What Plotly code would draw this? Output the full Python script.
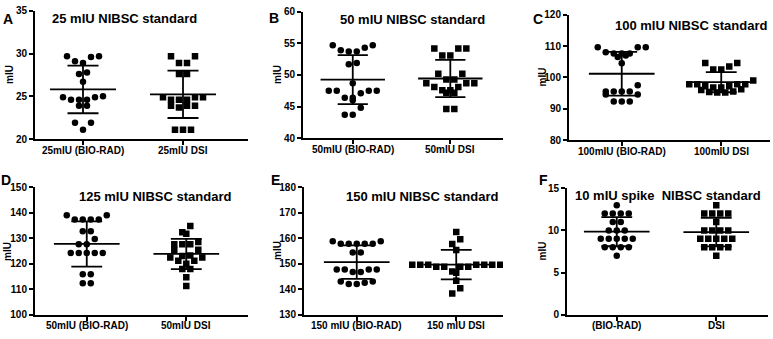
import numpy as np
import plotly.graph_objects as go

# ---------------- data ----------------
panel_letters = ["A", "B", "C", "D", "E", "F"]
titles = ["25 mIU NIBSC standard", "50 mIU NIBSC standard", "100 mIU NIBSC standard",
          "125 mIU NIBSC standard", "150 mIU NIBSC standard", "10 mIU spike\u00a0 NIBSC standard"]
cat_labels = [["25mIU (BIO-RAD)", "25mIU DSI"],
              ["50mIU (BIO-RAD)", "50mIU DSI"],
              ["100mIU (BIO-RAD)", "100mIU DSI"],
              ["50mIU (BIO-RAD)", "50mIU DSI"],
              ["150 mIU (BIO-RAD)", "150 mIU DSI"],
              ["(BIO-RAD)", "DSI"]]
y_ranges = [[20, 35], [40, 60], [80, 120], [100, 150], [130, 180], [0, 15]]
y_dticks = [5, 5, 10, 10, 10, 5]

biorad_25 = [29.7, 29.7, 29.6, 29.1, 28.9, 27.8, 27.6, 26.7, 25.0, 24.9, 24.9, 24.6, 24.6, 24.6,
             23.9, 23.9, 21.9, 21.9, 21.1]
dsi_25 = [29.7, 29.7, 28.9, 28.9, 27.6, 27.6, 24.9, 24.9, 24.9, 24.6, 24.6, 24.6, 23.9, 23.9,
          23.9, 23.7, 21.1, 21.1, 21.1]

biorad_50 = [54.7, 54.7, 54.3, 53.9, 53.7, 53.7, 51.9, 51.7, 48.7, 47.5, 47.5, 47.5, 47.5, 47.1,
             46.4, 46.4, 46.0, 44.8, 43.7, 43.7]
dsi_50 = [54.2, 54.2, 54.2, 53.1, 53.1, 50.2, 50.2, 49.3, 49.3, 48.7, 48.7, 48.7, 48.1, 48.1,
          47.6, 47.6, 47.2, 47.2, 44.6, 44.6]

biorad_100 = [109.6, 109.6, 109.6, 108.0, 107.6, 107.6, 107.6, 107.0, 106.5, 104.5, 97.5, 95.5,
              95.5, 95.5, 95.5, 94.5, 94.5, 92.3, 92.3, 92.3]
dsi_100 = [104.6, 104.6, 103.5, 102.5, 102.5, 99.0, 97.8, 97.8, 97.8, 97.8, 97.2, 97.2, 96.8,
           96.8, 96.2, 96.0, 95.5, 95.3, 95.2, 95.2]

biorad_125 = [139.0, 139.0, 137.4, 137.4, 137.4, 137.4, 132.8, 132.8, 129.7, 127.7, 127.7, 124.2,
              124.2, 124.2, 124.2, 124.2, 115.9, 115.9, 112.3, 112.3]
dsi_125 = [134.8, 132.4, 131.8, 128.5, 127.7, 127.7, 127.7, 125.5, 125.4, 123.2, 123.0, 122.5,
           122.5, 121.2, 121.2, 120.0, 117.9, 117.9, 114.7, 111.3]

biorad_150 = [158.8, 158.8, 157.9, 157.9, 157.9, 157.9, 157.9, 154.4, 154.4, 147.7, 147.7, 147.7,
              147.7, 146.8, 146.8, 143.0, 142.5, 142.0, 142.0, 143.0]
dsi_150 = [162.5, 159.6, 157.8, 155.4, 149.6, 149.6, 149.6, 149.6, 149.6, 149.6, 149.6, 148.8,
           148.8, 148.8, 148.8, 147.0, 146.5, 143.3, 140.4, 138.3]

biorad_10 = [13, 12, 12, 12, 12, 11, 11, 10, 10, 10, 9, 9, 9, 9, 9, 8, 8, 8, 8, 7]
dsi_10 = [13, 12, 12, 12, 12, 11, 10, 10, 10, 10, 9, 9, 9, 9, 9, 8, 8, 8, 8, 7]

series = [(biorad_25, dsi_25), (biorad_50, dsi_50), (biorad_100, dsi_100),
          (biorad_125, dsi_125), (biorad_150, dsi_150), (biorad_10, dsi_10)]

# ---------------- layout geometry (pixels) ----------------
W, H = 773, 339
# x0, x1, ytop, ybottom of each plot area
boxes = [(35, 248, 5, 138), (303, 503, 6, 137), (569, 770, 9, 139),
         (35, 248, 188, 320), (304, 503, 188, 320), (567, 768, 189, 320)]
x_ranges = [[0.52, 2.65], [0.49, 2.54], [0.47, 2.49], [0.48, 2.62], [0.47, 2.47], [0.5, 2.52]]
letter_pos = [(8, 13), (274, 12), (538, 13), (6, 180), (275, 180), (543, 180)]
title_pos = [(125, 13), (412, 14), (691, 20), (155, 197), (422, 198), (668, 196)]
ylab_pos = [10, 278, 542, 7, 277, 542]
xlab_gap = 11.5  # px from axis line to label centre

FONT = "Liberation Sans"


def px(x):
    return x / W


def py(y):
    return 1 - y / H


def swarm(values, bin_size, spacing):
    vals = np.array(values, float)
    order = np.argsort(-vals, kind="stable")
    groups, cur, start = [], [order[0]], vals[order[0]]
    for idx in order[1:]:
        if start - vals[idx] <= bin_size + 1e-9:
            cur.append(idx)
        else:
            groups.append(cur)
            cur, start = [idx], vals[idx]
    groups.append(cur)
    offsets = np.zeros(len(vals))
    for g in groups:
        n = len(g)
        slots = (np.arange(n) - (n - 1) / 2) * spacing
        slot_order = np.argsort(np.abs(slots) + 1e-6 * slots, kind="stable")
        g_sorted = sorted(g, key=lambda i: vals[i])
        for i, s in zip(g_sorted, slot_order):
            offsets[i] = slots[s]
    return offsets


fig = go.Figure()
annotations = []
layout_axes = {}

for k in range(6):
    x0, x1, yt, yb = boxes[k]
    xs = "" if k == 0 else str(k + 1)
    xr, yr = x_ranges[k], y_ranges[k]
    w_px, h_px = x1 - x0, yb - yt
    bin_size = 7.5 * (yr[1] - yr[0]) / h_px
    spacing = 8.0 * (xr[1] - xr[0]) / w_px
    for j, (vals, sym) in enumerate(zip(series[k], ["circle", "square"])):
        cx = j + 1
        v = np.array(vals, float)
        off = swarm(v, bin_size, spacing)
        fig.add_trace(go.Scatter(x=cx + off, y=v, mode="markers", xaxis="x" + xs, yaxis="y" + xs,
                                 marker=dict(symbol=sym, size=6.5, color="black", line=dict(width=0)),
                                 showlegend=False, hoverinfo="y"))
        m, sd = v.mean(), v.std(ddof=1)
        mw, cw = 0.33, 0.155
        lx = [cx - mw, cx + mw, None, cx - cw, cx + cw, None, cx - cw, cx + cw, None, cx, cx]
        ly = [m, m, None, m + sd, m + sd, None, m - sd, m - sd, None, m - sd, m + sd]
        fig.add_trace(go.Scatter(x=lx, y=ly, mode="lines", xaxis="x" + xs, yaxis="y" + xs,
                                 line=dict(color="black", width=1.8), showlegend=False,
                                 hoverinfo="skip"))
        annotations.append(dict(x=cx, y=py(yb + xlab_gap), xref="x" + xs, yref="paper",
                                text="<b>" + cat_labels[k][j] + "</b>", showarrow=False,
                                xanchor="center", yanchor="middle",
                                font=dict(family=FONT, size=10, color="black")))
    layout_axes["xaxis" + xs] = dict(
        domain=[px(x0), px(x1)], range=xr, anchor="y" + xs, showgrid=False, zeroline=False,
        showline=True, linecolor="black", linewidth=2, ticks="outside", ticklen=4,
        tickwidth=1.5, tickcolor="black", tickvals=[1, 2], showticklabels=False,
        fixedrange=True)
    layout_axes["yaxis" + xs] = dict(
        domain=[py(yb), py(yt)], range=yr, anchor="x" + xs, showgrid=False, zeroline=False,
        showline=True, linecolor="black", linewidth=2, ticks="outside", ticklen=4,
        tickwidth=1.5, tickcolor="black", dtick=y_dticks[k], tick0=0, fixedrange=True,
        tickfont=dict(family=FONT, size=10, color="black", weight="bold"))
    lx_, ly_ = letter_pos[k]
    annotations.append(dict(x=px(lx_), y=py(ly_), xref="paper", yref="paper",
                            text="<b>" + panel_letters[k] + "</b>",
                            showarrow=False, xanchor="center", yanchor="middle",
                            font=dict(family=FONT, size=14, color="black")))
    tx, ty = title_pos[k]
    annotations.append(dict(x=px(tx), y=py(ty), xref="paper", yref="paper",
                            text="<b>" + titles[k] + "</b>",
                            showarrow=False, xanchor="center", yanchor="middle",
                            font=dict(family=FONT, size=13, color="black")))
    annotations.append(dict(x=px(ylab_pos[k]), y=py((yt + yb) / 2), xref="paper", yref="paper",
                            text="<b>mIU</b>", textangle=-90, showarrow=False, xanchor="center",
                            yanchor="middle", font=dict(family=FONT, size=10, color="black")))

fig.update_layout(width=W, height=H, margin=dict(l=0, r=0, t=0, b=0),
                  paper_bgcolor="white", plot_bgcolor="white", showlegend=False,
                  hovermode=False, font=dict(family=FONT), annotations=annotations,
                  **layout_axes)

fig.write_html("out.html", config={"displayModeBar": False},
               post_script="document.body.style.margin='0';")
